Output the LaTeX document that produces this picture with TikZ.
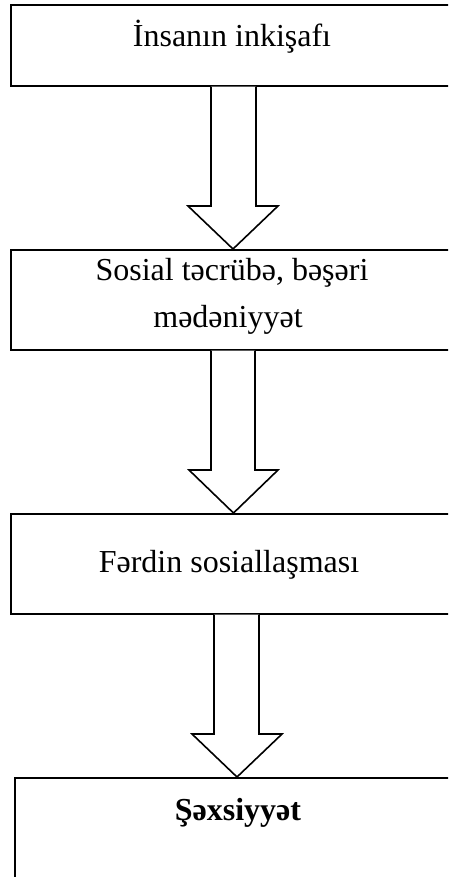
\documentclass[tikz,border=0pt]{standalone}
\usepackage{fontspec}
\setmainfont{Liberation Serif}
\begin{document}
\begin{tikzpicture}[x=1pt,y=-1pt,
  box/.style={draw=black, line width=1.6pt, rectangle, anchor=north west, inner sep=0pt},
  label/.style={anchor=base, inner sep=0pt, font=\fontsize{32}{47}\selectfont},
  bigarrow/.style={draw=black, line width=1.6pt, fill=white, line join=miter}]
\useasboundingbox (0,0) rectangle (448,877);
\clip (0,0) rectangle (448,877);
% boxes
\node[box, minimum width=455pt, minimum height=81pt] (b1) at (10,4) {};
\node[box, minimum width=455pt, minimum height=100pt] (b2) at (10,249) {};
\node[box, minimum width=455pt, minimum height=100pt] (b3) at (10,513) {};
\node[box, minimum width=455pt, minimum height=140pt] (b4) at (14,777) {};
% texts
\node[label] (t1) at (232,47) {İnsanın inkişafı};
\node[label] (t2a) at (232,280) {Sosial təcrübə, bəşəri};
\node[label] (t2b) at (228,327) {mədəniyyət};
\node[label] (t3) at (229,572) {Fərdin sosiallaşması};
\node[label, font=\fontsize{32}{47}\selectfont\bfseries] (t4) at (238,820) {Şəxsiyyət};
% arrows
\draw[bigarrow] (211,0 |- b1.south) -- (211,206) -- (188,206) -- (233,0 |- b2.north)
  -- (278,206) -- (256,206) -- (256,0 |- b1.south);
\draw[bigarrow] (211,0 |- b2.south) -- (211,470) -- (189,470) -- (233.5,0 |- b3.north)
  -- (278,470) -- (255,470) -- (255,0 |- b2.south);
\draw[bigarrow] (214,0 |- b3.south) -- (214,734) -- (192,734) -- (237,0 |- b4.north)
  -- (282,734) -- (259,734) -- (259,0 |- b3.south);
\end{tikzpicture}
\end{document}
